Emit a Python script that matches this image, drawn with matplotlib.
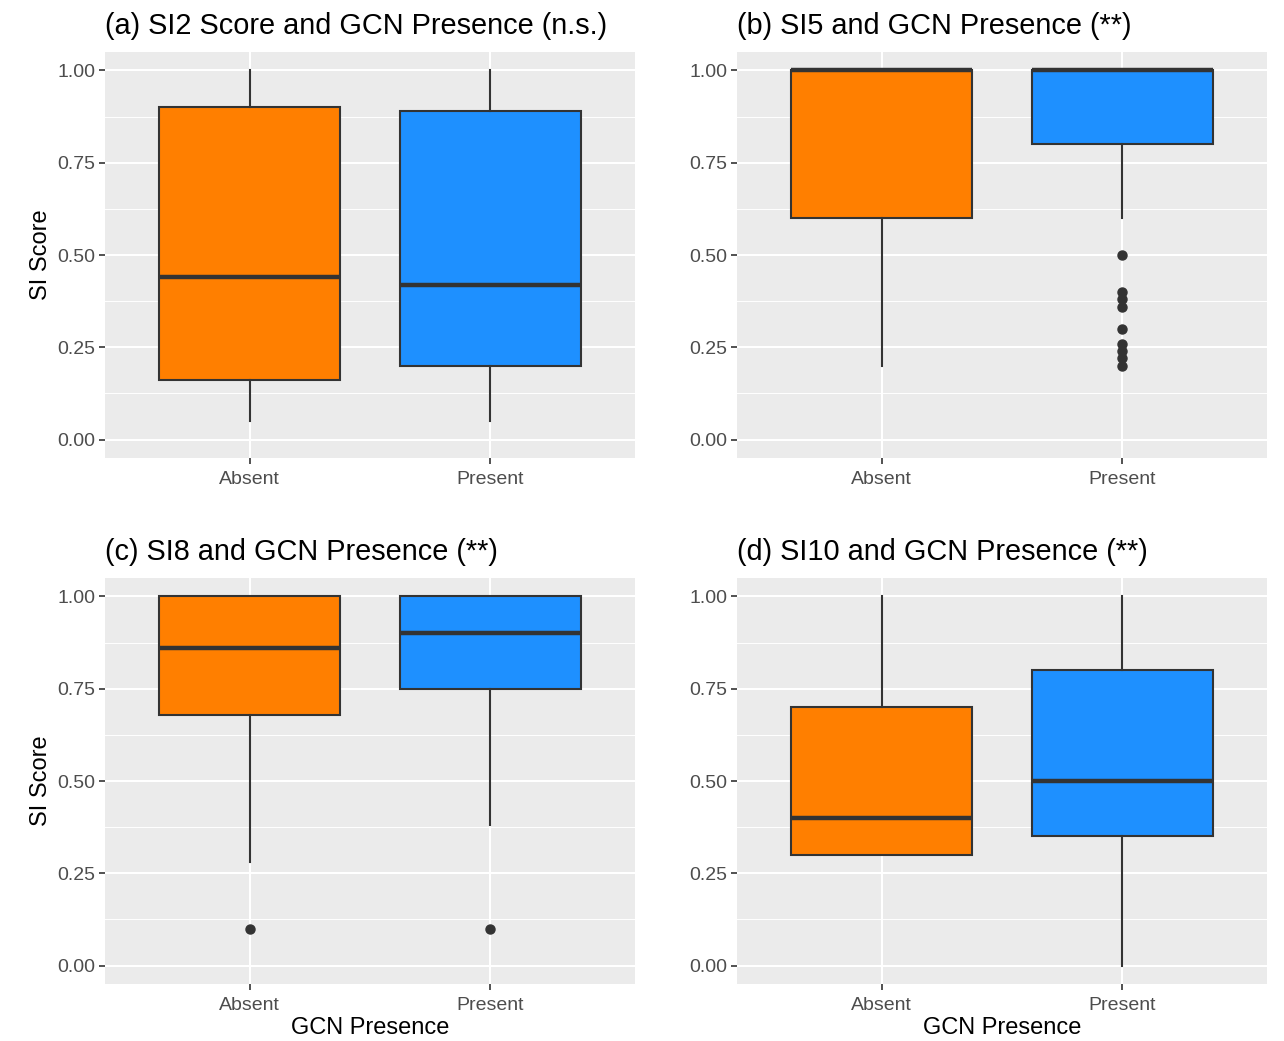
import matplotlib
matplotlib.use("Agg")
import matplotlib.pyplot as plt
from matplotlib.ticker import MultipleLocator

plt.rcParams['font.family'] = ['Liberation Sans', 'DejaVu Sans']

categories = ["Absent", "Present"]
titles = ["(a) SI2 Score and GCN Presence (n.s.)",
          "(b) SI5 and GCN Presence (**)",
          "(c) SI8 and GCN Presence (**)",
          "(d) SI10 and GCN Presence (**)"]
y_ticks = [0.00, 0.25, 0.50, 0.75, 1.00]
y_ticklabels = ["0.00", "0.25", "0.50", "0.75", "1.00"]

# Box statistics per panel: [whislo, q1, med, q3, whishi] for Absent, Present
si2_absent = [0.05, 0.16, 0.44, 0.90, 1.00]
si2_present = [0.05, 0.20, 0.42, 0.89, 1.00]
si5_absent = [0.20, 0.60, 1.00, 1.00, 1.00]
si5_present = [0.60, 0.80, 1.00, 1.00, 1.00]
si8_absent = [0.28, 0.68, 0.86, 1.00, 1.00]
si8_present = [0.38, 0.75, 0.90, 1.00, 1.00]
si10_absent = [0.30, 0.30, 0.40, 0.70, 1.00]
si10_present = [0.00, 0.35, 0.50, 0.80, 1.00]

# Outliers
si2_absent_out = []
si2_present_out = []
si5_absent_out = []
si5_present_out = [0.50, 0.40, 0.38, 0.36, 0.30, 0.26, 0.24, 0.22, 0.20]
si8_absent_out = [0.10]
si8_present_out = [0.10]
si10_absent_out = []
si10_present_out = []

panels = [
    (si2_absent, si2_present, si2_absent_out, si2_present_out),
    (si5_absent, si5_present, si5_absent_out, si5_present_out),
    (si8_absent, si8_present, si8_absent_out, si8_present_out),
    (si10_absent, si10_present, si10_absent_out, si10_present_out),
]
colors = ["#FF7F00", "#1E90FF"]

W, H = 1284, 1041
fig = plt.figure(figsize=(W / 100, H / 100), dpi=100)

# axes rectangles in pixels (left, top, right, bottom)
rects = [(105, 52, 635, 458), (737, 52, 1267, 458),
         (105, 578, 635, 984), (737, 578, 1267, 984)]

dark = "#333333"
for i, (rect, (sa, sp, oa, op)) in enumerate(zip(rects, panels)):
    l, t, r, b = rect
    ax = fig.add_axes([l / W, 1 - b / H, (r - l) / W, (b - t) / H])
    ax.set_facecolor("#EBEBEB")
    stats = []
    for s, o, name in [(sa, oa, categories[0]), (sp, op, categories[1])]:
        stats.append(dict(whislo=s[0], q1=s[1], med=s[2], q3=s[3], whishi=s[4],
                          fliers=o, label=name))
    bp = ax.bxp(stats, positions=[1, 2], widths=0.75, patch_artist=True,
                showcaps=False, showfliers=True,
                boxprops=dict(edgecolor=dark, linewidth=1.5),
                medianprops=dict(color=dark, linewidth=3.2, solid_capstyle='butt'),
                whiskerprops=dict(color=dark, linewidth=1.5),
                flierprops=dict(marker='o', markerfacecolor=dark, markeredgecolor=dark,
                                markersize=6.5, linestyle='none'))
    for patch, c in zip(bp['boxes'], colors):
        patch.set_facecolor(c)
    for art in bp['boxes'] + bp['medians'] + bp['whiskers'] + bp['fliers']:
        art.set_zorder(3)
    ax.set_xlim(0.4, 2.6)
    ax.set_ylim(-0.05, 1.05)
    ax.set_yticks(y_ticks)
    ax.set_yticklabels(y_ticklabels)
    ax.yaxis.set_minor_locator(MultipleLocator(0.125))
    ax.set_xticks([1, 2])
    ax.set_xticklabels(categories)
    ax.grid(which='major', color='white', linewidth=1.5, zorder=0)
    ax.grid(which='minor', axis='y', color='white', linewidth=0.7, zorder=0)
    ax.set_axisbelow(True)
    for sp_ in ax.spines.values():
        sp_.set_visible(False)
    ax.tick_params(axis='both', which='major', length=4, width=1.2, color="#333333",
                   labelcolor="#4D4D4D", labelsize=14, pad=3)
    ax.tick_params(axis='x', which='major', pad=5)
    ax.tick_params(axis='y', which='minor', length=0)
    ax.set_title(titles[i], loc='left', fontsize=20.8, color='black', pad=13, x=0.0)
    if i in (0, 2):
        ax.set_ylabel("SI Score", fontsize=17, color='black', labelpad=4)
    if i in (2, 3):
        ax.set_xlabel("GCN Presence", fontsize=17, color='black', labelpad=2.5)

fig.savefig("out.png", dpi=100)
